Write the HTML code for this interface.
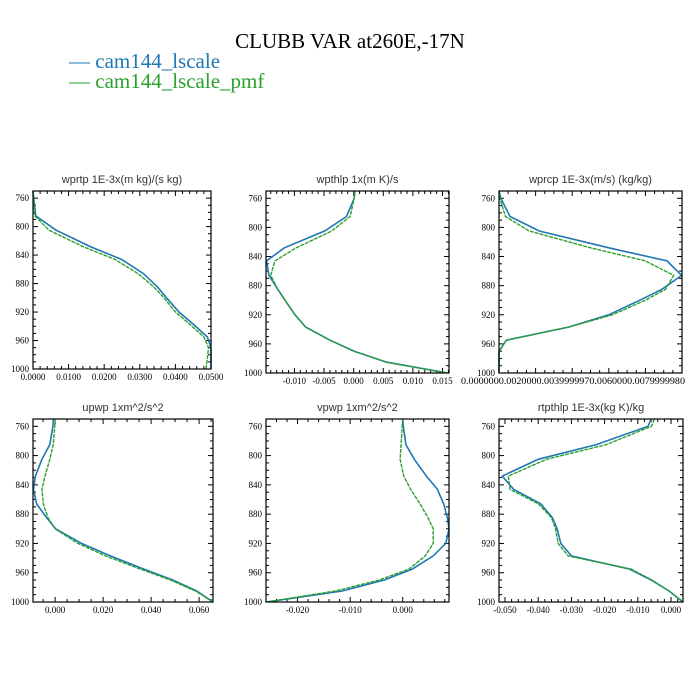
<!DOCTYPE html>
<html><head><meta charset="utf-8"><style>
body{margin:0;background:#fff;}
svg{display:block;}
</style></head><body>
<svg id="chart" width="700" height="700" viewBox="0 0 700 700" xmlns="http://www.w3.org/2000/svg">
<rect width="700" height="700" fill="#fff"/>
<text x="350" y="48" text-anchor="middle" font-family="Liberation Serif, serif" font-size="21">CLUBB VAR at260E,-17N</text>
<text x="69" y="68" font-family="Liberation Serif, serif" font-size="21" fill="#1f77b4">— cam144_lscale</text>
<text x="69" y="88" font-family="Liberation Serif, serif" font-size="21" fill="#2ca02c">— cam144_lscale_pmf</text>
<g id="panels"></g>
</svg>
<script>
const levels = [750,760,785,805,828,846,866,885,900,920,937,955,970,985,1000];
const yTicks = [760,800,840,880,920,960,1000];

const wprtpBlue  = [0,0.0002,0.0008,0.0065,0.016,0.0249,0.031,0.035,0.0375,0.041,0.045,0.049,0.05,0.05,0.05];
const wprtpGreen = [0,0.0001,0.0005,0.0045,0.014,0.023,0.0295,0.034,0.0368,0.040,0.044,0.048,0.0493,0.049,0.0486];
const wprtpTicks = [0,0.01,0.02,0.03,0.04,0.05];

const wpthlpBlue  = [0.0002,0.0001,-0.0012,-0.0049,-0.0117,-0.0147,-0.0143,-0.0128,-0.0116,-0.0099,-0.0081,-0.004,0.0001,0.0055,0.0158];
const wpthlpGreen = [0.0002,0.0001,-0.0006,-0.0037,-0.0097,-0.0133,-0.014,-0.0128,-0.0116,-0.0099,-0.0081,-0.004,0.0001,0.0055,0.0158];
const wpthlpTicks = [-0.01,-0.005,0,0.005,0.01,0.015];

const wprcpBlue  = [0,0.01,0.06,0.22,0.6,0.918,0.998,0.89,0.77,0.6,0.38,0.04,0,0,0];
const wprcpGreen = [0,0.005,0.035,0.165,0.5,0.8,0.954,0.91,0.8,0.62,0.38,0.04,0,0,0];
const wprcpTicks = [0,0.2,0.4,0.6,0.8,1.0];

const upwpBlue  = [-0.0007,-0.0009,-0.0022,-0.0055,-0.0082,-0.009,-0.0077,-0.0035,0.0002,0.011,0.023,0.037,0.049,0.059,0.0658];
const upwpGreen = [0,-0.0001,-0.0008,-0.0022,-0.0042,-0.0055,-0.0049,-0.003,0,0.0095,0.021,0.0355,0.048,0.0585,0.0658];
const upwpTicks = [0,0.02,0.04,0.06];

const vpwpBlue  = [0,0.0001,0.0006,0.0022,0.0045,0.0066,0.0078,0.0085,0.0088,0.0082,0.0058,0.0018,-0.0035,-0.0115,-0.0259];
const vpwpGreen = [0,-0.0001,-0.0003,-0.0005,0.0002,0.0015,0.0033,0.0048,0.0058,0.0058,0.0043,0.0012,-0.0045,-0.0128,-0.0259];
const vpwpTicks = [-0.02,-0.01,0];

const rtpthlpBlue  = [-0.006,-0.0069,-0.0225,-0.040,-0.0508,-0.0474,-0.0392,-0.0357,-0.0343,-0.0332,-0.030,-0.0125,-0.006,-0.0006,0.0036];
const rtpthlpGreen = [-0.005,-0.0059,-0.0195,-0.0375,-0.049,-0.0485,-0.0399,-0.036,-0.0348,-0.034,-0.031,-0.012,-0.0058,-0.0006,0.0036];
const rtpthlpTicks = [-0.05,-0.04,-0.03,-0.02,-0.01,0];

const NS='http://www.w3.org/2000/svg';
const root=document.getElementById('panels');
function mk(tag,attrs,parent){const e=document.createElementNS(NS,tag);for(const k in attrs)e.setAttribute(k,attrs[k]);(parent||root).appendChild(e);return e;}

const panels=[
 {name:'wprtp',title:'wprtp  1E-3x(m kg)/(s kg)',box:[33,191,211,369],xr:[0,0.05],blue:wprtpBlue,green:wprtpGreen,ticks:wprtpTicks,dec:4,minor:5},
 {name:'wpthlp',title:'wpthlp  1x(m K)/s',box:[266,191,449,373],xr:[-0.0148,0.0161],blue:wpthlpBlue,green:wpthlpGreen,ticks:wpthlpTicks,dec:3,minor:5},
 {name:'wprcp',title:'wprcp  1E-3x(m/s) (kg/kg)',box:[499,191,682,373],xr:[0,1],blue:wprcpBlue,green:wprcpGreen,ticks:wprcpTicks,dec:-1,minor:4},
 {name:'upwp',title:'upwp  1xm^2/s^2',box:[33,419,213,602],xr:[-0.0092,0.0658],blue:upwpBlue,green:upwpGreen,ticks:upwpTicks,dec:3,minor:4},
 {name:'vpwp',title:'vpwp  1xm^2/s^2',box:[266,419,449,602],xr:[-0.026,0.0088],blue:vpwpBlue,green:vpwpGreen,ticks:vpwpTicks,dec:3,minor:5},
 {name:'rtpthlp',title:'rtpthlp  1E-3x(kg K)/kg',box:[499,419,683,602],xr:[-0.0518,0.0036],blue:rtpthlpBlue,green:rtpthlpGreen,ticks:rtpthlpTicks,dec:3,minor:5},
];

panels.forEach(p=>{
 const [x0,y0,x1,y1]=p.box;
 const g=mk('g',{});
 
 
 const xs=v=>x0+(v-p.xr[0])/(p.xr[1]-p.xr[0])*(x1-x0);
 const ys=v=>y0+(v-750)/250*(y1-y0);
 const t=mk('text',{x:(x0+x1)/2,y:y0-8,'text-anchor':'middle','font-family':'Liberation Sans, sans-serif','font-size':'11',fill:'#333'},g);
 t.textContent=p.title;
 
 
 // y ticks
 for(let v=750;v<=1000;v+=10){
  const y=ys(v);const major=(v%40===0&&v>=760)||v===1000;const L=major?5:3;
  mk('line',{x1:x0,x2:x0+L,y1:y,y2:y,stroke:'#000','stroke-width':1},g);
  mk('line',{x1:x1,x2:x1-L,y1:y,y2:y,stroke:'#000','stroke-width':1},g);
 }
 yTicks.forEach(v=>{
  const tt=mk('text',{x:x0-4,y:ys(v)+3,'text-anchor':'end','font-family':'Liberation Serif, serif','font-size':'9'},g);
  tt.textContent=String(v);
  
  
 });
 // x ticks
 const step=p.ticks[1]-p.ticks[0];
 const ms=step/p.minor;
 for(let v=p.ticks[0]-step;v<=p.ticks[p.ticks.length-1]+step+1e-12;v+=ms){
  if(v<p.xr[0]-1e-9||v>p.xr[1]+1e-9)continue;
  const x=xs(v);const k=Math.round((v-p.ticks[0])/ms);const major=k%p.minor===0;const L=major?5:3;
  mk('line',{x1:x,x2:x,y1:y1,y2:y1-L,stroke:'#000','stroke-width':1},g);
  mk('line',{x1:x,x2:x,y1:y0,y2:y0+L,stroke:'#000','stroke-width':1},g);
 }
 if(p.dec>=0){
  p.ticks.forEach(v=>{
   const tt=mk('text',{x:xs(v),y:y1+11,'text-anchor':'middle','font-family':'Liberation Serif, serif','font-size':'9'},g);
   tt.textContent=(Math.abs(v)<1e-12?0:v).toFixed(p.dec);
   
   
  });
 } else {
  const tt=mk('text',{x:461,y:y1+11,'font-family':'Liberation Serif, serif','font-size':'9',textLength:224,lengthAdjust:'spacingAndGlyphs'},g);
  tt.textContent='0.0000000.0020000.0039999970.0060000.0079999980';
  
  
 }
 const clip='clip-'+p.name;
 const cp=mk('clipPath',{id:clip},g);
 mk('rect',{x:x0-1,y:y0,width:x1-x0+2,height:y1-y0},cp);
 const ptsB=levels.map((l,i)=>xs(p.blue[i]).toFixed(1)+','+ys(l).toFixed(1)).join(' ');
 const ptsG=levels.map((l,i)=>xs(p.green[i]).toFixed(1)+','+ys(l).toFixed(1)).join(' ');
 const lb=mk('polyline',{points:ptsB,fill:'none',stroke:'#1f77b4','stroke-width':1.6,'clip-path':'url(#'+clip+')'},g);
 
 
 const lg=mk('polyline',{points:ptsG,fill:'none',stroke:'#2ca02c','stroke-width':1.4,'stroke-dasharray':'4,1','clip-path':'url(#'+clip+')'},g);
 
 
 const fr=mk('rect',{x:x0,y:y0,width:x1-x0,height:y1-y0,fill:'none',stroke:'#000','stroke-width':1.2},g);
 
 
});
</script>
</body></html>
